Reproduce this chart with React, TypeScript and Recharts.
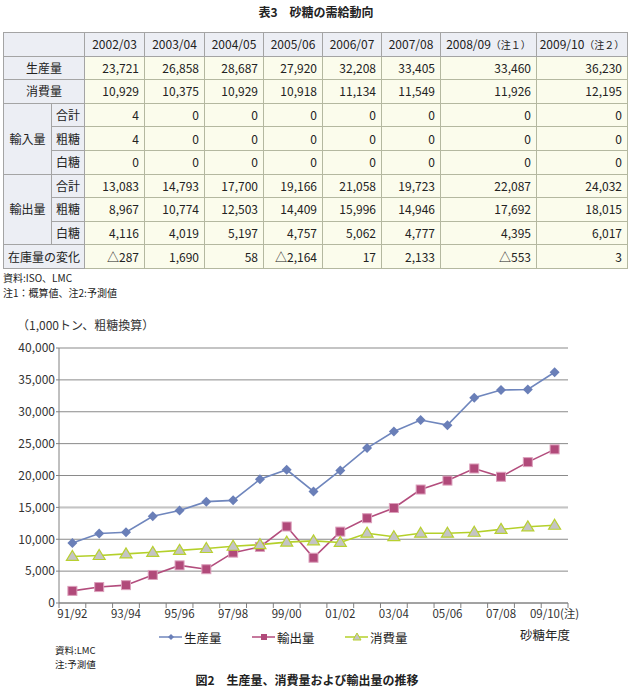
import React from 'react';
import { LineChart, Line, XAxis, YAxis, CartesianGrid, ReferenceLine } from 'recharts';

// ---------- table data ----------
const tableYears = ['2002/03', '2003/04', '2004/05', '2005/06', '2006/07', '2007/08', '2008/09', '2009/10'];
const tableYearNotes = ['', '', '', '', '', '', '（注１）', '（注２）'];
const tblProduction = [23721, 26858, 28687, 27920, 32208, 33405, 33460, 36230];
const tblConsumption = [10929, 10375, 10929, 10918, 11134, 11549, 11926, 12195];
const tblImportTotal = [4, 0, 0, 0, 0, 0, 0, 0];
const tblImportRaw = [4, 0, 0, 0, 0, 0, 0, 0];
const tblImportWhite = [0, 0, 0, 0, 0, 0, 0, 0];
const tblExportTotal = [13083, 14793, 17700, 19166, 21058, 19723, 22087, 24032];
const tblExportRaw = [8967, 10774, 12503, 14409, 15996, 14946, 17692, 18015];
const tblExportWhite = [4116, 4019, 5197, 4757, 5062, 4777, 4395, 6017];
const tblStockChange = [-287, 1690, 58, -2164, 17, 2133, -553, 3];

// ---------- chart data ----------
const categories = ['91/92', '92/93', '93/94', '94/95', '95/96', '96/97', '97/98', '98/99', '99/00', '00/01',
  '01/02', '02/03', '03/04', '04/05', '05/06', '06/07', '07/08', '08/09', '09/10(注)'];
const productionSeries = [9400, 10900, 11100, 13600, 14500, 15900, 16100, 19400, 20900, 17500,
  20800, 24300, 26900, 28700, 27900, 32200, 33400, 33500, 36200];
const exportSeries = [1900, 2500, 2800, 4400, 5900, 5300, 7900, 8800, 12000, 7100,
  11200, 13300, 14900, 17800, 19200, 21100, 19800, 22100, 24100];
const consumptionSeries = [7300, 7450, 7700, 7950, 8250, 8550, 8900, 9150, 9550, 9750,
  9500, 10950, 10400, 10950, 10950, 11100, 11550, 11950, 12200];
const yTicks = [0, 5000, 10000, 15000, 20000, 25000, 30000, 35000, 40000];

const chartData = categories.map((c, i) => ({
  cat: c,
  production: productionSeries[i],
  exports: exportSeries[i],
  consumption: consumptionSeries[i],
}));

const FONT = '"Noto Sans CJK JP", "Noto Sans", sans-serif';
const BLUE = '#6f86bd';
const MAGENTA = '#b34d7d';
const GREEN = '#b4d02a';

const CH_W = 630;
const CH_TOP = 330;
const M_TOP = 18;
const M_RIGHT = 62;
const Y_W = 59;
const PLOT_H = 255;
const X_H = 22;
const CH_H = M_TOP + PLOT_H + X_H;
const PLOT_W = CH_W - M_RIGHT - Y_W;
const BAND = PLOT_W / categories.length;
const AXIS_Y = M_TOP + PLOT_H;

const fmt = (v: number) => v.toLocaleString('en-US');
const fmtStock = (v: number) => (v < 0 ? '△' + fmt(-v) : fmt(v));

const Diamond = (p: any) => {
  const { cx, cy } = p;
  if (cx == null || cy == null) return null;
  return <polygon points={`${cx},${cy - 5} ${cx + 5},${cy} ${cx},${cy + 5} ${cx - 5},${cy}`} fill="#6a7fb8" />;
};
const Square = (p: any) => {
  const { cx, cy } = p;
  if (cx == null || cy == null) return null;
  return <rect x={cx - 4.5} y={cy - 4.5} width={9} height={9} fill="#b14a7a" stroke="#dca0bc" strokeWidth={1} />;
};
const Tri = (p: any) => {
  const { cx, cy } = p;
  if (cx == null || cy == null) return null;
  return <polygon points={`${cx},${cy - 6} ${cx + 6},${cy + 4} ${cx - 6},${cy + 4}`} fill="#c4c4c4" stroke="#b8d030" strokeWidth={1.2} />;
};

const XTick = (props: any) => {
  const { x, payload } = props;
  const index = props.index ?? payload?.index ?? 0;
  const half = BAND / 2;
  return (
    <g>
      <line x1={x - half} x2={x - half} y1={AXIS_Y} y2={AXIS_Y + 5} stroke="#808080" />
      {index === categories.length - 1 && (
        <line x1={x + half} x2={x + half} y1={AXIS_Y} y2={AXIS_Y + 5} stroke="#808080" />
      )}
      {index % 2 === 0 && (
        <text x={x} y={AXIS_Y + 15} textAnchor="middle" fontSize={11.5} fill="#333" fontFamily={FONT}>
          {payload.value}
        </text>
      )}
    </g>
  );
};

const cellBase: React.CSSProperties = {
  border: '1px solid #a4a4a4',
  padding: 0,
  height: 22.6,
  fontSize: 12,
  lineHeight: '14px',
  whiteSpace: 'nowrap',
};
const labelCell: React.CSSProperties = { ...cellBase, background: '#eceef4', textAlign: 'center' };
const dataCell: React.CSSProperties = { ...cellBase, background: '#fbfcec', textAlign: 'right', paddingRight: 5, borderColor: '#b4b8a0' };

const DataCells = ({ values, f }: { values: number[]; f: (v: number) => string }) => (
  <>
    {values.map((v, i) => (
      <td key={i} style={dataCell}>{f(v)}</td>
    ))}
  </>
);

const LegendItem = ({ left, color, marker, label }: { left: number; color: string; marker: React.ReactNode; label: string }) => (
  <div style={{ position: 'absolute', left, top: 629, height: 16, display: 'flex', alignItems: 'center' }}>
    <svg width={24} height={14} style={{ display: 'block' }}>
      <line x1={0} x2={23} y1={7} y2={7} stroke={color} strokeWidth={1.5} />
      {marker}
    </svg>
    <span style={{ fontSize: 12.5, marginLeft: 1, color: '#222' }}>{label}</span>
  </div>
);

const noteTop: React.CSSProperties = { position: 'absolute', fontSize: 10, lineHeight: '15px', whiteSpace: 'nowrap' };
const noteBottom: React.CSSProperties = { position: 'absolute', fontSize: 9.5, lineHeight: '14px', whiteSpace: 'nowrap' };

export default function App() {
  return (
    <div style={{ position: 'absolute', left: 0, top: 0, width: 630, height: 700, background: '#fff', fontFamily: FONT, color: '#222' }}>
      <div style={{ position: 'absolute', left: 0, top: 4, width: 632, textAlign: 'center', fontSize: 12, fontWeight: 'bold', lineHeight: '16px' }}>
        表3　砂糖の需給動向
      </div>

      <table style={{ position: 'absolute', left: 3, top: 32, width: 624, borderCollapse: 'collapse', tableLayout: 'fixed', border: '1px solid #909090' }}>
        <colgroup>
          <col style={{ width: 48 }} />
          <col style={{ width: 33 }} />
          <col style={{ width: 60 }} />
          <col style={{ width: 60 }} />
          <col style={{ width: 59 }} />
          <col style={{ width: 59 }} />
          <col style={{ width: 59 }} />
          <col style={{ width: 59 }} />
          <col style={{ width: 96 }} />
          <col style={{ width: 91 }} />
        </colgroup>
        <tbody>
          <tr>
            <td colSpan={2} style={labelCell}></td>
            {tableYears.map((y, i) => (
              <td key={y} style={labelCell}>
                {y}
                {tableYearNotes[i] && <span style={{ fontSize: 10 }}>{tableYearNotes[i]}</span>}
              </td>
            ))}
          </tr>
          <tr>
            <td colSpan={2} style={labelCell}>生産量</td>
            <DataCells values={tblProduction} f={fmt} />
          </tr>
          <tr>
            <td colSpan={2} style={labelCell}>消費量</td>
            <DataCells values={tblConsumption} f={fmt} />
          </tr>
          <tr>
            <td rowSpan={3} style={labelCell}>輸入量</td>
            <td style={labelCell}>合計</td>
            <DataCells values={tblImportTotal} f={fmt} />
          </tr>
          <tr>
            <td style={labelCell}>粗糖</td>
            <DataCells values={tblImportRaw} f={fmt} />
          </tr>
          <tr>
            <td style={labelCell}>白糖</td>
            <DataCells values={tblImportWhite} f={fmt} />
          </tr>
          <tr>
            <td rowSpan={3} style={labelCell}>輸出量</td>
            <td style={labelCell}>合計</td>
            <DataCells values={tblExportTotal} f={fmt} />
          </tr>
          <tr>
            <td style={labelCell}>粗糖</td>
            <DataCells values={tblExportRaw} f={fmt} />
          </tr>
          <tr>
            <td style={labelCell}>白糖</td>
            <DataCells values={tblExportWhite} f={fmt} />
          </tr>
          <tr>
            <td colSpan={2} style={labelCell}>在庫量の変化</td>
            <DataCells values={tblStockChange} f={fmtStock} />
          </tr>
        </tbody>
      </table>

      <div style={{ ...noteTop, left: 3, top: 270 }}>資料:ISO、LMC</div>
      <div style={{ ...noteTop, left: 3, top: 285 }}>注1：概算値、注2:予測値</div>

      <div style={{ position: 'absolute', left: 17, top: 318, fontSize: 12, lineHeight: '14px', color: '#333' }}>
        （1,000トン、粗糖換算）
      </div>

      <div style={{ position: 'absolute', left: 0, top: CH_TOP }}>
        <LineChart width={CH_W} height={CH_H} data={chartData} margin={{ top: M_TOP, right: M_RIGHT, left: 0, bottom: 0 }}>
          <CartesianGrid vertical={false} stroke="#8a8a8a" />
          <ReferenceLine y={40000} stroke="#c4c4c4" strokeWidth={2} />
          <ReferenceLine y={15000} stroke="#c4c4c4" strokeWidth={2} />
          <XAxis
            dataKey="cat"
            interval={0}
            tickLine={false}
            axisLine={{ stroke: '#808080' }}
            tick={<XTick />}
            height={X_H}
            padding={{ left: BAND / 2, right: BAND / 2 }}
          />
          <YAxis
            domain={[0, 40000]}
            ticks={yTicks}
            interval={0}
            width={Y_W}
            tickSize={3}
            tickMargin={1}
            tickLine={{ stroke: '#808080' }}
            axisLine={{ stroke: '#808080' }}
            tick={{ fontSize: 12, fill: '#333', fontFamily: FONT }}
            tickFormatter={fmt}
          />
          <Line dataKey="production" stroke={BLUE} strokeWidth={1.6} dot={<Diamond />} isAnimationActive={false} />
          <Line dataKey="exports" stroke={MAGENTA} strokeWidth={1.6} dot={<Square />} isAnimationActive={false} />
          <Line dataKey="consumption" stroke={GREEN} strokeWidth={1.6} dot={<Tri />} isAnimationActive={false} />
        </LineChart>
      </div>

      <LegendItem left={159} color={BLUE} label="生産量" marker={<polygon points="12,4 15,7 12,10 9,7" fill="#6a7fb8" />} />
      <LegendItem left={252} color={MAGENTA} label="輸出量" marker={<rect x={9} y={4} width={6} height={6} fill="#b14a7a" />} />
      <LegendItem left={345} color={GREEN} label="消費量" marker={<polygon points="12,3 16,10 8,10" fill="#c4c4c4" stroke="#b8d030" />} />

      <div style={{ position: 'absolute', left: 520, top: 627, fontSize: 12.5, lineHeight: '16px' }}>砂糖年度</div>

      <div style={{ ...noteBottom, left: 55, top: 643 }}>資料:LMC</div>
      <div style={{ ...noteBottom, left: 55, top: 657 }}>注:予測値</div>

      <div style={{ position: 'absolute', left: 0, top: 672, width: 614, textAlign: 'center', fontSize: 12, fontWeight: 'bold', lineHeight: '16px' }}>
        図2　生産量、消費量および輸出量の推移
      </div>
    </div>
  );
}
